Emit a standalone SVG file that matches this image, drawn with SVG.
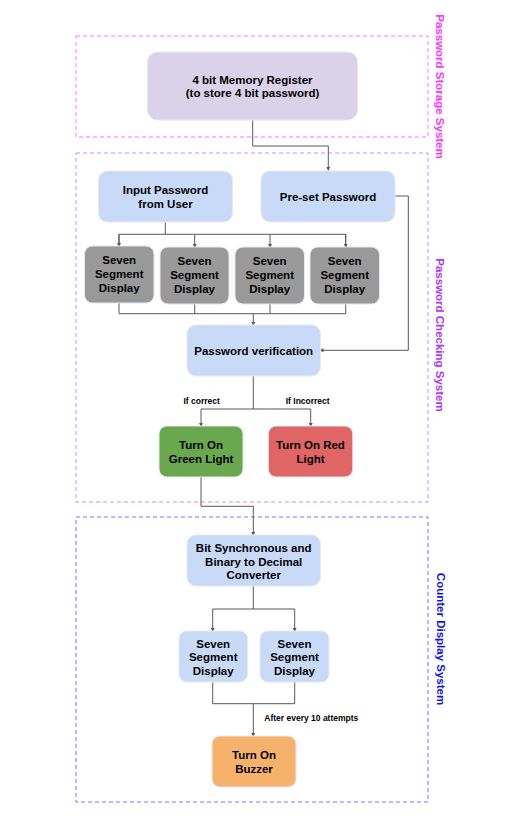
<svg xmlns="http://www.w3.org/2000/svg" width="529" height="817" viewBox="0 0 529 817">
<style>
.t{font-family:"Liberation Sans",Arial,sans-serif;font-weight:bold;font-size:11.5px;fill:#000;text-anchor:middle}
.s{font-family:"Liberation Sans",Arial,sans-serif;font-weight:bold;font-size:8.5px;fill:#000}
.side{font-family:"Liberation Sans",Arial,sans-serif;font-weight:bold;font-size:11.5px;text-anchor:middle}
.box{fill:none;stroke-width:1;stroke-dasharray:4 3}
.n{stroke:#e8e8f0;stroke-width:1}
.c{fill:none;stroke:#595959;stroke-width:1}
</style>
<defs>
<marker id="a" markerWidth="4" markerHeight="4" refX="3" refY="2" orient="auto" markerUnits="userSpaceOnUse">
<path d="M0,0 L4,2 L0,4 z" fill="#595959"/>
</marker>
</defs>
<rect width="529" height="817" fill="#fff"/>

<g id="groups">
<rect class="box" x="76" y="36" width="352" height="101" stroke="#ff77ff"/>
<rect class="box" x="76" y="153" width="352" height="349" stroke="#cc88ff"/>
<rect class="box" x="76" y="517" width="352" height="285" stroke="#7777ff"/>
<text class="side" fill="#ff33ff" transform="translate(435.5,86.5) rotate(90)">Password Storage System</text>
<text class="side" fill="#aa33ff" transform="translate(435.5,335) rotate(90)">Password Checking System</text>
<text class="side" fill="#1111ee" transform="translate(436.5,639) rotate(90)">Counter Display System</text>
</g>

<g id="connectors">
<path class="c" d="M252.7,120 V146 H328.3 V170" marker-end="url(#a)"/>
<path class="c" d="M165.3,222 V234.3 M119,246 V234.3 H345.7 V247" />
<path class="c" d="M119,234.3 V246" marker-end="url(#a)"/>
<path class="c" d="M194.7,234.3 V247" marker-end="url(#a)"/>
<path class="c" d="M270,234.3 V247" marker-end="url(#a)"/>
<path class="c" d="M345.7,234.3 V247" marker-end="url(#a)"/>
<path class="c" d="M119,303 V313.7 H345.7 V304 M194.7,304 V313.7 M270,304 V313.7"/>
<path class="c" d="M253.3,313.7 V325" marker-end="url(#a)"/>
<path class="c" d="M395,196 H408.3 V350.3 H320.5" marker-end="url(#a)"/>
<path class="c" d="M253.3,376 V409 H201 V426" marker-end="url(#a)"/>
<path class="c" d="M253.3,409 H310.7 V426" marker-end="url(#a)"/>
<path class="c" d="M201,477 V506.3 H253.3 V535" marker-end="url(#a)"/>
<path class="c" d="M253.3,586 V609 H212.7 V631" marker-end="url(#a)"/>
<path class="c" d="M253.3,609 H294.7 V631" marker-end="url(#a)"/>
<path class="c" d="M212.7,682 V703.7 H294.7 V682"/>
<path class="c" d="M253.3,703.7 V736" marker-end="url(#a)"/>
<text class="s" x="201.7" y="404" text-anchor="middle">If correct</text>
<text class="s" x="307.7" y="404" text-anchor="middle">If Incorrect</text>
<text class="s" x="264.3" y="720.5">After every 10 attempts</text>
</g>

<g id="memory">
<rect class="n" x="147.5" y="52" width="210" height="68" rx="10" fill="#d9d2e9"/>
<text class="t" x="252.5" y="83.5">4 bit Memory Register</text>
<text class="t" x="252.5" y="97">(to store 4 bit password)</text>
</g>
<g id="input">
<rect class="n" x="98.5" y="171" width="134" height="51" rx="9" fill="#c9daf8"/>
<text class="t" x="165.5" y="193.5">Input Password</text>
<text class="t" x="165.5" y="207.5">from User</text>
</g>
<g id="preset">
<rect class="n" x="261" y="171" width="134" height="51" rx="9" fill="#c9daf8"/>
<text class="t" x="328" y="200.5">Pre-set Password</text>
</g>
<g id="seg1">
<rect class="n" x="84.5" y="246" width="69.5" height="57" rx="8" fill="#999999"/>
<text class="t" x="119.2" y="264">Seven</text><text class="t" x="119.2" y="278">Segment</text><text class="t" x="119.2" y="292">Display</text>
</g>
<g id="seg2">
<rect class="n" x="160" y="247" width="69" height="57" rx="8" fill="#999999"/>
<text class="t" x="194.5" y="265">Seven</text><text class="t" x="194.5" y="279">Segment</text><text class="t" x="194.5" y="293">Display</text>
</g>
<g id="seg3">
<rect class="n" x="235" y="247" width="69.5" height="57" rx="8" fill="#999999"/>
<text class="t" x="269.7" y="265">Seven</text><text class="t" x="269.7" y="279">Segment</text><text class="t" x="269.7" y="293">Display</text>
</g>
<g id="seg4">
<rect class="n" x="310" y="247" width="69.5" height="57" rx="8" fill="#999999"/>
<text class="t" x="344.7" y="265">Seven</text><text class="t" x="344.7" y="279">Segment</text><text class="t" x="344.7" y="293">Display</text>
</g>
<g id="verify">
<rect class="n" x="187" y="325" width="133.5" height="51" rx="9" fill="#c9daf8"/>
<text class="t" x="253.7" y="354.7">Password verification</text>
</g>
<g id="green">
<rect class="n" x="159" y="426" width="84" height="51" rx="8" fill="#6aa84f"/>
<text class="t" x="201" y="449">Turn On</text><text class="t" x="201" y="463">Green Light</text>
</g>
<g id="red">
<rect class="n" x="268.3" y="426" width="84.5" height="51" rx="8" fill="#e06666"/>
<text class="t" x="310.5" y="449">Turn On Red</text><text class="t" x="310.5" y="463">Light</text>
</g>
<g id="converter">
<rect class="n" x="187" y="535" width="133.5" height="51" rx="9" fill="#c9daf8"/>
<text class="t" x="253.7" y="551.5">Bit Synchronous and</text>
<text class="t" x="253.7" y="565.5">Binary to Decimal</text>
<text class="t" x="253.7" y="579">Converter</text>
</g>
<g id="cseg1">
<rect class="n" x="179" y="631" width="68.5" height="51" rx="8" fill="#c9daf8"/>
<text class="t" x="213.2" y="647.5">Seven</text><text class="t" x="213.2" y="661">Segment</text><text class="t" x="213.2" y="675">Display</text>
</g>
<g id="cseg2">
<rect class="n" x="260" y="631" width="69" height="51" rx="8" fill="#c9daf8"/>
<text class="t" x="294.5" y="647.5">Seven</text><text class="t" x="294.5" y="661">Segment</text><text class="t" x="294.5" y="675">Display</text>
</g>
<g id="buzzer">
<rect class="n" x="212" y="736" width="84" height="51" rx="8" fill="#f6b26b"/>
<text class="t" x="254" y="759">Turn On</text><text class="t" x="254" y="772.5">Buzzer</text>
</g>
</svg>
